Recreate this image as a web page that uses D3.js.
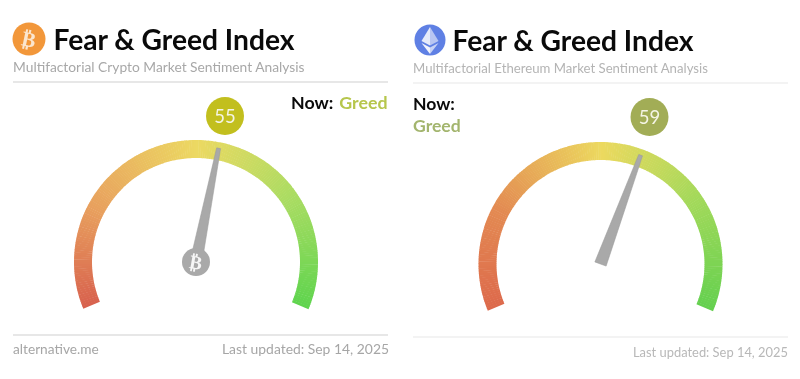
<!DOCTYPE html>
<html>
<head>
<meta charset="utf-8">
<script src="https://cdn.jsdelivr.net/npm/d3@7"></script>
<style>
  html, body { margin: 0; padding: 0; background: #fff; }
  text { font-family: Lato, "Open Sans", sans-serif; }
  svg { display: block; filter: blur(0.35px); }
</style>
</head>
<body>
<div id="wrapper"></div>
<script>
const gaugeNames = ["Crypto", "Ethereum"];
const gaugeValues = [55, 59];
const gaugeLabels = ["Greed", "Greed"];
const titleText = "Fear & Greed Index";
const subtitles = [
  "Multifactorial Crypto Market Sentiment Analysis",
  "Multifactorial Ethereum Market Sentiment Analysis",
];
const sourceLabels = ["alternative.me", ""];
const updatedLabels = ["Last updated: Sep 14, 2025", "Last updated: Sep 14, 2025"];
const rampStops = [0, 22, 50, 75, 100];
const rampColors = [
  ["#d8624e", "#e8a05e", "#ecd962", "#a9dc62", "#5ed44e"],
  ["#dd6a4c", "#e38a52", "#ecd95f", "#a2d95a", "#64d04f"],
];
const badgeColors = ["#c2bf1e", "#a2ad56"];
const labelColors = ["#b6c64c", "#a3b56e"];

function drawGauges() {
  const wrapper = d3
    .select("#wrapper")
    .append("svg")
    .attr("width", 800)
    .attr("height", 379);

  const layouts = [
    { left: 13, right: 388, cx: 196, cy: 262, ruleTop: 82, ruleBottom: 335, footerY: 354, ruleColor: "#cfcfcf",
      titleX: 53.5, titleY: 50, subY: 72, subSize: 13.8, footSize: 13.9, footRight: 389,
      iconX: 29, iconY: 39, iconR: 16.5, badgeX: 225, badgeY: 116 },
    { left: 413, right: 788, cx: 600.5, cy: 264, ruleTop: 83, ruleBottom: 337, footerY: 357, ruleColor: "#e8e8e8",
      titleX: 452.5, titleY: 51, subY: 73, subSize: 13.2, footSize: 12.9, footRight: 788,
      iconX: 430, iconY: 40, iconR: 15.5, badgeX: 649.5, badgeY: 117 },
  ];

  const angleScale = d3.scaleLinear().domain([0, 100]).range([-112.5, 112.5]);
  const arcGen = d3.arc().innerRadius(104).outerRadius(122);
  const toRad = (deg) => (deg * Math.PI) / 180;

  gaugeNames.forEach((name, i) => {
    const l = layouts[i];
    const g = wrapper.append("g").attr("class", "panel-" + name);
    const colorScale = d3.scaleLinear().domain(rampStops).range(rampColors[i]).interpolate(d3.interpolateRgb);

    // header
    g.append("circle").attr("cx", l.iconX).attr("cy", l.iconY).attr("r", l.iconR)
      .attr("fill", i === 0 ? "#f2973a" : "#5f80e4");

    if (i === 0) {
      g.append("text").attr("x", l.iconX).attr("y", l.iconY + 7.5)
        .attr("text-anchor", "middle").attr("fill", "#fbe6cf")
        .style("font-family", "'DejaVu Sans'").style("font-weight", "bold").style("font-size", "21px")
        .attr("transform", `rotate(12,${l.iconX},${l.iconY})`)
        .text("\u20BF");
    } else {
      const diamond = (pts, fill) => g.append("polygon")
        .attr("points", pts.map((p) => [l.iconX + p[0], l.iconY + p[1]].join(",")).join(" "))
        .attr("fill", fill);
      diamond([[0, -13], [-8.5, 1], [0, 5.5]], "#e6ebfa");
      diamond([[0, -13], [8.5, 1], [0, 5.5]], "#b8c6f2");
      diamond([[-8.5, 3], [0, 14], [0, 7.5]], "#f2f4fc");
      diamond([[8.5, 3], [0, 14], [0, 7.5]], "#c8d3f5");
    }

    g.append("text").attr("x", l.titleX).attr("y", l.titleY)
      .attr("fill", "#0a0a0a").style("font-weight", "700").style("font-size", "28.2px")
      .text(titleText);

    g.append("text").attr("x", l.left).attr("y", l.subY)
      .attr("fill", i === 0 ? "#a8a8a8" : "#b4b4b4").style("font-size", l.subSize + "px")
      .text(subtitles[i]);

    g.selectAll("line.rule").data([l.ruleTop, l.ruleBottom]).join("line")
      .attr("class", "rule")
      .attr("x1", l.left).attr("x2", l.right)
      .attr("y1", (d) => d).attr("y2", (d) => d)
      .attr("stroke", l.ruleColor).attr("stroke-width", 1.2);

    // now label
    if (i === 0) {
      g.append("text").attr("x", 291).attr("y", 109)
        .attr("fill", "#0a0a0a").style("font-weight", "700").style("font-size", "17.8px").text("Now:");
      g.append("text").attr("x", 387.5).attr("y", 109).attr("text-anchor", "end")
        .attr("fill", labelColors[i]).style("font-weight", "700").style("font-size", "17.8px").text(gaugeLabels[i]);
    } else {
      g.append("text").attr("x", l.left).attr("y", 110)
        .attr("fill", "#0a0a0a").style("font-weight", "700").style("font-size", "17.6px").text("Now:");
      g.append("text").attr("x", l.left).attr("y", 132)
        .attr("fill", labelColors[i]).style("font-weight", "700").style("font-size", "17.6px").text(gaugeLabels[i]);
    }

    // gauge band, small slices so the colour runs along the arc
    const band = g.append("g").attr("transform", `translate(${l.cx},${l.cy})`);
    band.selectAll("path")
      .data(d3.range(0, 100, 0.5))
      .join("path")
      .attr("d", (d) => arcGen({ startAngle: toRad(angleScale(d)), endAngle: toRad(angleScale(d + 0.6)) }))
      .attr("fill", (d) => colorScale(d));

    // needle
    const angle = angleScale(gaugeValues[i]);
    const needle = band.append("g").attr("transform", `rotate(${angle})`);
    needle.append("polygon")
      .attr("points", "-6,0 6,0 2,-116 -2,-116")
      .attr("fill", "#a9a9a9").attr("stroke", "#9a9a9a").attr("stroke-width", 0.5);

    if (i === 0) {
      band.append("circle").attr("r", 14).attr("fill", "#a9a9a9");
      band.append("text").attr("y", 7).attr("text-anchor", "middle")
        .attr("fill", "#f6f6f6").style("font-family", "'DejaVu Sans'").style("font-weight", "bold")
        .style("font-size", "19px").attr("transform", "rotate(10)").text("\u20BF");
    }

    // value badge
    g.append("circle").attr("cx", l.badgeX).attr("cy", l.badgeY).attr("r", 19).attr("fill", badgeColors[i]);
    g.append("text").attr("x", l.badgeX).attr("y", l.badgeY + 6.5).attr("text-anchor", "middle")
      .attr("fill", "#f4f4e4").style("font-size", "18.5px").text(gaugeValues[i]);

    // footer
    if (sourceLabels[i]) {
      g.append("text").attr("x", l.left).attr("y", l.footerY)
        .attr("fill", "#a6a6a6").style("font-size", "13.7px").text(sourceLabels[i]);
    }
    g.append("text").attr("x", l.footRight).attr("y", l.footerY).attr("text-anchor", "end")
      .attr("fill", i === 0 ? "#a6a6a6" : "#b8b8b8").style("font-size", l.footSize + "px").text(updatedLabels[i]);
  });
}

drawGauges();
</script>
</body>
</html>
